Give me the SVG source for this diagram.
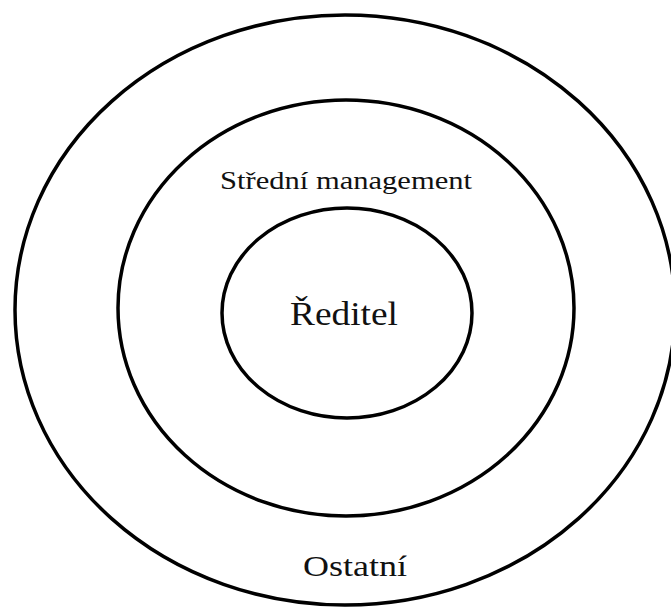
<svg xmlns="http://www.w3.org/2000/svg" width="671" height="608" viewBox="0 0 671 608">
<style>
.ring{fill:none;stroke:#000;stroke-width:3.5}
.lbl{font-family:"Liberation Serif","DejaVu Serif",serif;fill:#111;text-anchor:middle}
</style>
<rect width="671" height="608" fill="#fff"/>
<g id="outer"><ellipse class="ring" cx="345" cy="310" rx="330" ry="295"/><text class="lbl" x="355" y="576" font-size="30" textLength="104" lengthAdjust="spacingAndGlyphs">Ostatní</text></g>
<g id="middle"><ellipse class="ring" cx="346" cy="308" rx="228" ry="208"/><text class="lbl" x="346" y="189" font-size="26" textLength="252" lengthAdjust="spacingAndGlyphs">Střední management</text></g>
<g id="inner"><ellipse class="ring" cx="347" cy="313" rx="125" ry="105"/><text class="lbl" x="344" y="325" font-size="33" textLength="108" lengthAdjust="spacingAndGlyphs">Ředitel</text></g>
<g id="connectors"/>
</svg>
